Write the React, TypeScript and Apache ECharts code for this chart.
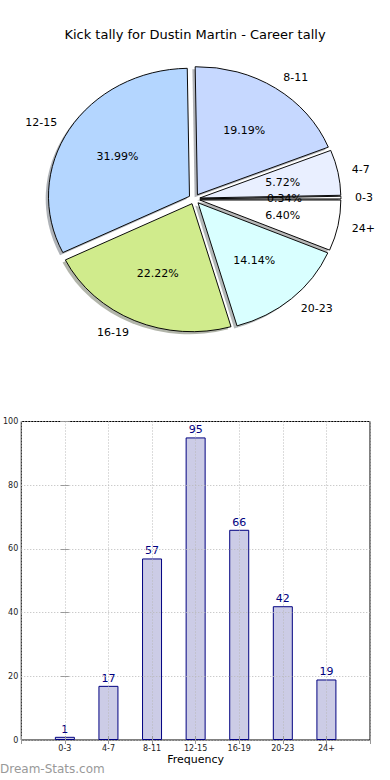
import React, { useEffect, useRef } from "react";
import * as echarts from "echarts";

const categories = ["0-3", "4-7", "8-11", "12-15", "16-19", "20-23", "24+"];
const kicks = [1, 17, 57, 95, 66, 42, 19];
const sliceColors = ["#ffffff", "#e9efff", "#c6d8ff", "#b4d6ff", "#d0eb8c", "#d9ffff", "#ffffff"];
const yTicks = [0, 20, 40, 60, 80, 100];

const FONT = "DejaVu Sans";

export default function App() {
  const ref = useRef<HTMLDivElement>(null);
  useEffect(() => {
    if (!ref.current) return;
    const chart = echarts.init(ref.current, undefined, { renderer: "svg" });
    const total = kicks.reduce((a, b) => a + b, 0);
    const cum: number[] = [];
    let acc = 0;
    kicks.forEach((v) => {
      cum.push(acc);
      acc += v;
    });
    const cx = 194.3;
    const cy = 199;
    const rx = 141;
    const ry = 128;
    const explode = 0.04;

    const shade = (hex: string) => {
      const n = parseInt(hex.slice(1), 16);
      const r = Math.round(((n >> 16) & 255) * 0.3);
      const g = Math.round(((n >> 8) & 255) * 0.3);
      const b = Math.round((n & 255) * 0.3);
      return `rgba(${r},${g},${b},0.4)`;
    };

    const gridLine = { show: true, lineStyle: { type: [1, 2], color: "#b8b8b8", width: 1 } };

    const option: any = {
      animation: false,
      title: {
        text: "Kick tally for Dustin Martin - Career tally",
        left: "center",
        top: 23,
        textStyle: { fontFamily: FONT, fontSize: 13, fontWeight: "normal", color: "#000" },
      },
      graphic: [
        {
          type: "text",
          left: 0,
          top: 763,
          style: { text: "Dream-Stats.com", fill: "#999", fontSize: 12, fontFamily: FONT },
        },
      ],
      grid: {
        left: 19.5,
        right: 20,
        top: 421.5,
        bottom: 40,
        show: true,
        borderColor: "#000",
        borderWidth: 1,
      },
      xAxis: [
        {
          type: "value",
          min: -1,
          max: 7,
          interval: 1,
          position: "bottom",
          z: 4,
          axisLine: { show: false },
          axisTick: { show: true, inside: true, length: 4, lineStyle: { color: "#999" } },
          axisLabel: {
            formatter: (v: number) => categories[v] ?? "",
            fontSize: 8,
            margin: 4,
            color: "#222",
            fontFamily: FONT,
          },
          splitLine: gridLine,
          name: "Frequency",
          nameLocation: "middle",
          nameGap: 14,
          nameTextStyle: { fontFamily: FONT, fontSize: 11, color: "#000" },
        },
        {
          type: "value",
          min: -1,
          max: 7,
          interval: 1,
          position: "top",
          z: 4,
          axisLine: { show: false },
          axisTick: { show: true, inside: true, length: 4, lineStyle: { color: "#999" } },
          axisLabel: { show: false },
          splitLine: { show: false },
        },
      ],
      yAxis: [
        {
          type: "value",
          min: 0,
          max: 100,
          interval: 20,
          position: "left",
          z: 4,
          axisLine: { show: false },
          axisTick: { show: true, inside: true, length: 4, lineStyle: { color: "#999" } },
          axisLabel: {
            formatter: (v: number) => (yTicks.includes(v) ? String(v) : ""),
            fontSize: 8,
            margin: 3,
            color: "#222",
            fontFamily: FONT,
          },
          splitLine: gridLine,
        },
        {
          type: "value",
          min: 0,
          max: 100,
          interval: 20,
          position: "right",
          z: 4,
          axisLine: { show: false },
          axisTick: { show: true, inside: true, length: 4, lineStyle: { color: "#999" } },
          axisLabel: { show: false },
          splitLine: { show: false },
        },
      ],
      series: [
        {
          type: "bar",
          xAxisIndex: 0,
          yAxisIndex: 0,
          data: kicks.map((v, i) => [i, v]),
          barWidth: 20,
          itemStyle: { color: "#ccccE6", borderColor: "#000080", borderWidth: 1 },
          label: {
            show: true,
            position: "top",
            distance: 2,
            color: "#000080",
            fontSize: 11,
            fontFamily: FONT,
            formatter: (p: any) => String(p.value[1]),
          },
        },
        {
          type: "custom",
          coordinateSystem: "none",
          data: kicks,
          renderItem: (params: any, api: any) => {
            const i = params.dataIndex;
            const v = api.value(0) as number;
            const a0 = (cum[i] / total) * Math.PI * 2;
            const a1 = a0 + (v / total) * Math.PI * 2;
            const mid = (a0 + a1) / 2;
            const c = Math.cos(mid);
            const s = Math.sin(mid);
            const ex = cx + explode * rx * c;
            const ey = cy - explode * ry * s;
            const sector = (fill: string, dx: number, dy: number, stroke: boolean, z2: number) => ({
              type: "sector",
              x: ex + dx,
              y: ey + dy,
              scaleY: ry / rx,
              z2,
              shape: { cx: 0, cy: 0, r: rx, r0: 0, startAngle: -a0, endAngle: -a1, clockwise: false },
              style: stroke
                ? { fill, stroke: "#000", lineWidth: 1 }
                : { fill, stroke: null },
            });
            const pct = ((v / total) * 100).toFixed(2) + "%";
            return {
              type: "group",
              children: [
                sector(shade(sliceColors[i]), -2.8, 2.6, false, 1),
                sector(sliceColors[i], 0, 0, true, 10),
                {
                  type: "text",
                  x: ex + 0.6 * rx * c,
                  y: ey - 0.6 * ry * s,
                  z2: 20,
                  style: {
                    text: pct,
                    fill: "#000",
                    fontSize: 11,
                    fontFamily: FONT,
                    align: "center",
                    verticalAlign: "middle",
                  },
                },
                {
                  type: "text",
                  x: ex + 1.1 * rx * c,
                  y: ey - 1.1 * ry * s,
                  z2: 20,
                  style: {
                    text: categories[i],
                    fill: "#000",
                    fontSize: 11,
                    fontFamily: FONT,
                    align: c < 0 ? "right" : "left",
                    verticalAlign: "middle",
                  },
                },
              ],
            };
          },
        },
      ],
    };
    chart.setOption(option);
    return () => chart.dispose();
  }, []);
  return (
    <div
      ref={ref}
      style={{ position: "fixed", left: 0, top: 0, width: 390, height: 780, background: "#fff" }}
    />
  );
}
